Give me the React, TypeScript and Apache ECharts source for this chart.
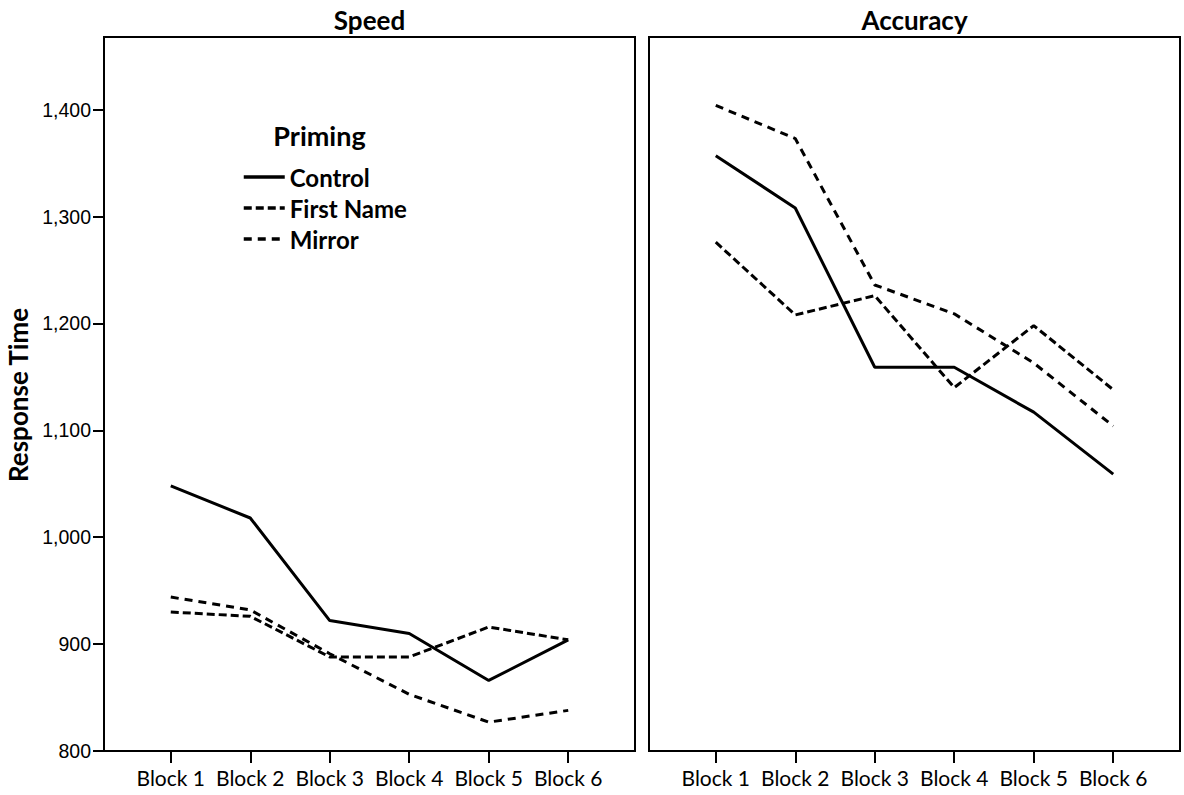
import React, { useEffect, useRef } from 'react';
import * as echarts from 'echarts';

const blocks = ['Block 1', 'Block 2', 'Block 3', 'Block 4', 'Block 5', 'Block 6'];
const blockPos = [1, 2, 3, 4, 5, 6];
const yTicks = [800, 900, 1000, 1100, 1200, 1300, 1400];

const speedControl = [1048, 1018, 922, 910, 866, 904];
const speedFirstName = [930, 926, 888, 888, 916, 904];
const speedMirror = [944, 932, 891, 853, 827, 838];

const accControl = [1357, 1308, 1159, 1159, 1117, 1059];
const accFirstName = [1276, 1208, 1226, 1140, 1198, 1138];
const accMirror = [1404, 1373, 1236, 1209, 1163, 1104];

const seriesNames = ['Control', 'First Name', 'Mirror'];
const dashes: (string | number[])[] = ['solid', [8, 4], [8, 6]];

const FONT = 'Lato';

function toPts(vals: number[]) {
  return vals.map((v, i) => [blockPos[i], v]);
}

export default function App() {
  const ref = useRef<HTMLDivElement>(null);
  useEffect(() => {
    if (!ref.current) return;
    const chart = echarts.init(ref.current, undefined, { renderer: 'svg' });
    const xAxisBase = (gridIndex: number) => ({
      type: 'value',
      gridIndex,
      min: 0.16,
      max: 6.84,
      splitLine: { show: false },
      axisLine: { show: true, onZero: false, lineStyle: { color: '#000', width: 2 } },
      axisTick: {
        show: true,
        customValues: blockPos,
        length: 12,
        lineStyle: { color: '#000', width: 2 },
      },
      axisLabel: {
        customValues: blockPos,
        formatter: (v: number) => blocks[Math.round(v) - 1],
        fontFamily: FONT,
        fontSize: 21,
        color: '#000',
        margin: 16,
      },
    });
    const yAxisBase = (gridIndex: number, labels: boolean) => ({
      type: 'value',
      gridIndex,
      min: 800,
      max: 1468,
      interval: 100,
      splitLine: { show: false },
      axisLine: { show: true, onZero: false, lineStyle: { color: '#000', width: 2 } },
      axisTick: {
        show: labels,
        customValues: yTicks,
        length: 11,
        lineStyle: { color: '#000', width: 2 },
      },
      axisLabel: {
        show: labels,
        customValues: yTicks,
        formatter: (v: number) => v.toLocaleString('en-US'),
        fontFamily: 'Liberation Sans',
        fontSize: 19.5,
        color: '#000',
        margin: 13,
      },
    });
    const mk = (name: string, idx: number, vals: number[], dash: any) => ({
      type: 'line',
      name,
      xAxisIndex: idx,
      yAxisIndex: idx,
      data: toPts(vals),
      symbol: 'none',
      lineStyle: { color: '#000', width: 3, type: dash },
      itemStyle: { color: '#000' },
    });
    const option: any = {
      animation: false,
      backgroundColor: '#fff',
      grid: [
        { left: 104, top: 37, width: 531, height: 714, show: true, borderColor: '#000', borderWidth: 2 },
        { left: 649, top: 37, width: 531, height: 714, show: true, borderColor: '#000', borderWidth: 2 },
      ],
      xAxis: [xAxisBase(0), xAxisBase(1)],
      yAxis: [yAxisBase(0, true), yAxisBase(1, false)],
      legend: {
        orient: 'vertical',
        left: 242,
        top: 165,
        padding: 0,
        itemWidth: 41,
        itemHeight: 14,
        itemGap: 7,
        data: seriesNames,
        itemStyle: { opacity: 0 },
        lineStyle: { width: 3.5 },
        textStyle: { fontFamily: FONT, fontWeight: 'bold', fontSize: 24, color: '#000', lineHeight: 24 },
      },
      series: [
        mk(seriesNames[0], 0, speedControl, dashes[0]),
        mk(seriesNames[1], 0, speedFirstName, dashes[1]),
        mk(seriesNames[2], 0, speedMirror, dashes[2]),
        mk(seriesNames[0], 1, accControl, dashes[0]),
        mk(seriesNames[1], 1, accFirstName, dashes[1]),
        mk(seriesNames[2], 1, accMirror, dashes[2]),
      ],
      graphic: [
        {
          type: 'text', x: 369.5, y: 20,
          style: { text: 'Speed', fontFamily: FONT, fontWeight: 'bold', fontSize: 26, fill: '#000', textAlign: 'center', textVerticalAlign: 'middle' },
        },
        {
          type: 'text', x: 914.5, y: 20,
          style: { text: 'Accuracy', fontFamily: FONT, fontWeight: 'bold', fontSize: 26, fill: '#000', textAlign: 'center', textVerticalAlign: 'middle' },
        },
        {
          type: 'text', x: 18, y: 395, rotation: Math.PI / 2,
          style: { text: 'Response Time', fontFamily: FONT, fontWeight: 'bold', fontSize: 26, fill: '#000', textAlign: 'center', textVerticalAlign: 'middle' },
        },
        {
          type: 'text', x: 319.5, y: 135,
          style: { text: 'Priming', fontFamily: FONT, fontWeight: 'bold', fontSize: 27, fill: '#000', textAlign: 'center', textVerticalAlign: 'middle' },
        },
      ],
    };
    chart.setOption(option);
    return () => chart.dispose();
  }, []);
  return (
    <div
      ref={ref}
      style={{ position: 'fixed', left: 0, top: 0, width: 1184, height: 795, background: '#fff' }}
    />
  );
}
